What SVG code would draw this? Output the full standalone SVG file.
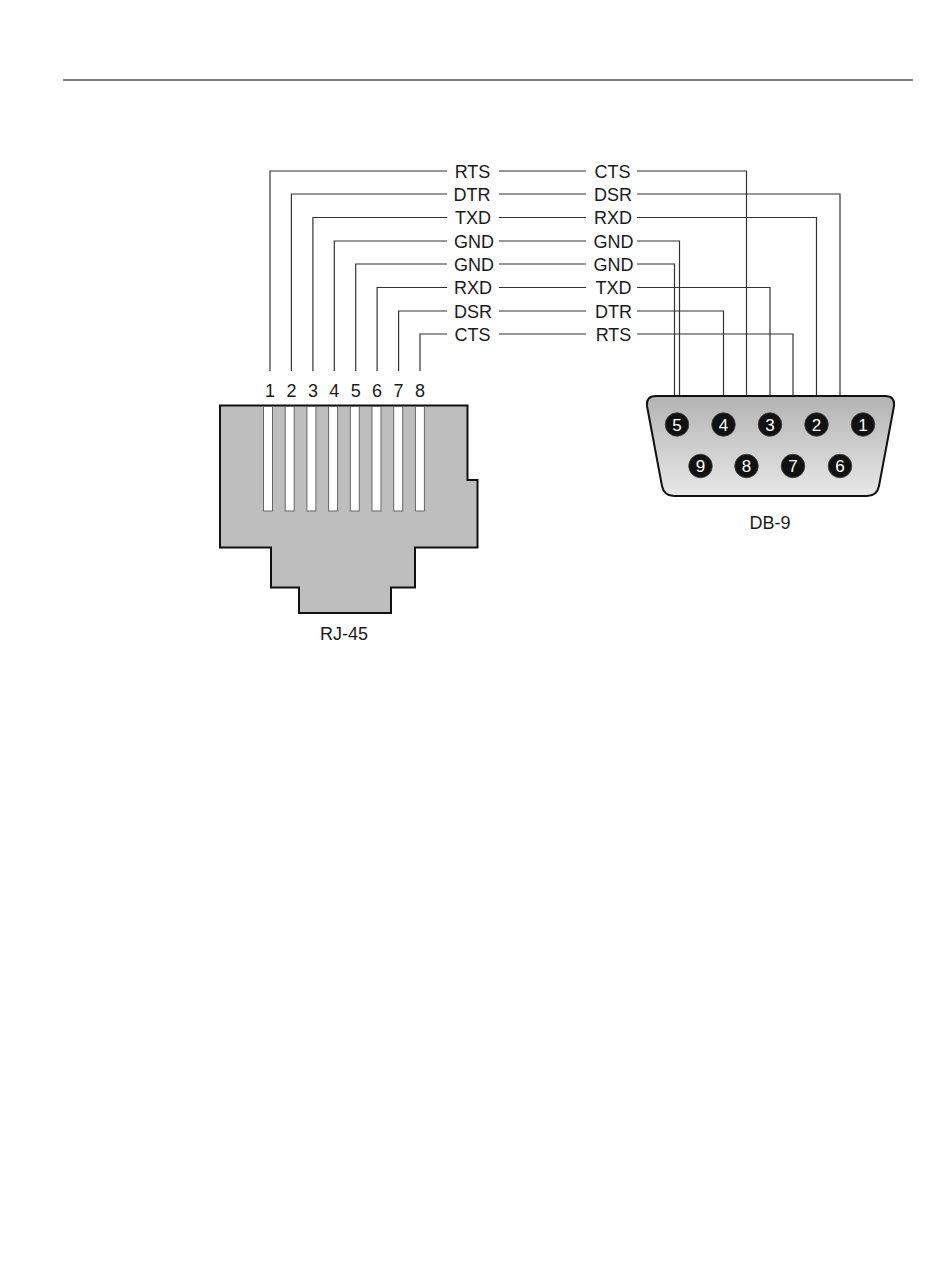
<svg xmlns="http://www.w3.org/2000/svg" width="950" height="1284" viewBox="0 0 950 1284">
<style>
.txt{font-family:"Liberation Sans",Arial,sans-serif;font-size:18px;fill:#1a1a1a}
.c{text-anchor:middle}
.wire{fill:none;stroke:#333;stroke-width:1.2}
.pin{fill:#111;stroke:#444;stroke-width:0.8}
.pn{font-family:"Liberation Sans",Arial,sans-serif;font-size:17px;fill:#fff;text-anchor:middle}
.slot{fill:#fff;stroke:#666;stroke-width:1}
</style>
<defs>
<linearGradient id="shell" x1="0" y1="0" x2="0" y2="1">
<stop offset="0" stop-color="#b3b3b3"/>
<stop offset="1" stop-color="#e8e8e8"/>
</linearGradient>
</defs>
<rect width="950" height="1284" fill="#fff"/>
<line id="rule" x1="63" y1="80" x2="913" y2="80" stroke="#555" stroke-width="1.5"/>

<g id="connectors" class="wire">
<path d="M270,371 V171 H447 M499,171 H586 M637,171 H746.5 V466"/>
<path d="M291.4,371 V194 H447 M499,194 H586 M637,194 H840 V466"/>
<path d="M312.9,371 V217.5 H447 M499,217.5 H586 M637,217.5 H816.5 V424"/>
<path d="M334.3,371 V241 H447 M499,241 H586 M637,241 H679.5 V424"/>
<path d="M355.7,371 V264 H447 M499,264 H586 M637,264 H674.5 V424"/>
<path d="M377.1,371 V287.5 H447 M499,287.5 H586 M637,287.5 H770 V424"/>
<path d="M398.6,371 V311 H447 M499,311 H586 M637,311 H723.5 V424"/>
<path d="M420,371 V334 H447 M499,334 H586 M637,334 H793 V466"/>
</g>

<g id="labels-rj45-side" class="txt c">
<text x="472.5" y="177.5">RTS</text>
<text x="472" y="200.5">DTR</text>
<text x="473" y="224">TXD</text>
<text x="474" y="247.5">GND</text>
<text x="474" y="270.5">GND</text>
<text x="473" y="294">RXD</text>
<text x="473" y="317.5">DSR</text>
<text x="472.5" y="340.5">CTS</text>
</g>
<g id="labels-db9-side" class="txt c">
<text x="612.5" y="177.5">CTS</text>
<text x="613" y="200.5">DSR</text>
<text x="613" y="224">RXD</text>
<text x="613.5" y="247.5">GND</text>
<text x="613.5" y="270.5">GND</text>
<text x="613.5" y="294">TXD</text>
<text x="613.5" y="317.5">DTR</text>
<text x="613.5" y="340.5">RTS</text>
</g>

<g id="rj45">
<path d="M220,405.5 H467.5 V480 H477.5 V547.5 H415 V587.5 H391 V613 H299 V587.5 H271 V547.5 H220 Z" fill="#bebebe" stroke="#111" stroke-width="2"/>
<rect class="slot" x="263.5" y="406.5" width="9" height="104.5"/>
<rect class="slot" x="285.2" y="406.5" width="9" height="104.5"/>
<rect class="slot" x="306.9" y="406.5" width="9" height="104.5"/>
<rect class="slot" x="328.6" y="406.5" width="9" height="104.5"/>
<rect class="slot" x="350.3" y="406.5" width="9" height="104.5"/>
<rect class="slot" x="372" y="406.5" width="9" height="104.5"/>
<rect class="slot" x="393.7" y="406.5" width="9" height="104.5"/>
<rect class="slot" x="415.4" y="406.5" width="9" height="104.5"/>
<g class="txt c">
<text x="270" y="396.5">1</text>
<text x="291.4" y="396.5">2</text>
<text x="312.9" y="396.5">3</text>
<text x="334.3" y="396.5">4</text>
<text x="355.7" y="396.5">5</text>
<text x="377.1" y="396.5">6</text>
<text x="398.6" y="396.5">7</text>
<text x="420" y="396.5">8</text>
</g>
<text class="txt c" x="344" y="640">RJ-45</text>
</g>

<g id="db9">
<path d="M656,396 H885 Q895,396 894,406 L879,486 Q877,496 867,496 H674 Q664,496 662,486 L647,406 Q646,396 656,396 Z" fill="url(#shell)" stroke="#111" stroke-width="2"/>
<circle class="pin" cx="677" cy="424.5" r="11.8"/><text class="pn" x="677" y="430.7">5</text>
<circle class="pin" cx="723.5" cy="424.5" r="11.8"/><text class="pn" x="723.5" y="430.7">4</text>
<circle class="pin" cx="770" cy="424.5" r="11.8"/><text class="pn" x="770" y="430.7">3</text>
<circle class="pin" cx="816.5" cy="424.5" r="11.8"/><text class="pn" x="816.5" y="430.7">2</text>
<circle class="pin" cx="863" cy="424.5" r="11.8"/><text class="pn" x="863" y="430.7">1</text>
<circle class="pin" cx="700.5" cy="466" r="11.8"/><text class="pn" x="700.5" y="472.2">9</text>
<circle class="pin" cx="746.5" cy="466" r="11.8"/><text class="pn" x="746.5" y="472.2">8</text>
<circle class="pin" cx="793" cy="466" r="11.8"/><text class="pn" x="793" y="472.2">7</text>
<circle class="pin" cx="840" cy="466" r="11.8"/><text class="pn" x="840" y="472.2">6</text>
<text class="txt c" x="770" y="529">DB-9</text>
</g>
</svg>
